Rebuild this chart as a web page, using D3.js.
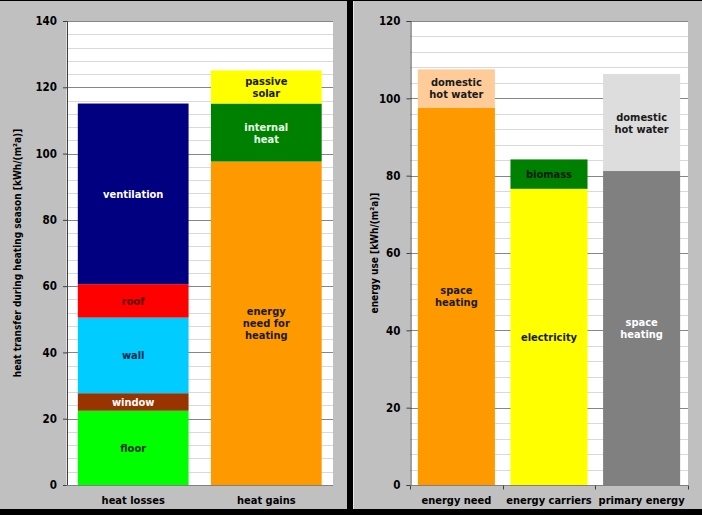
<!DOCTYPE html>
<html>
<head>
<meta charset="utf-8">
<script src="https://cdn.jsdelivr.net/npm/d3@7"></script>
<style>
  html, body { margin: 0; padding: 0; background: #000; }
  svg { display: block; }
  text { font-family: "DejaVu Sans Condensed", "DejaVu Sans", sans-serif; font-weight: bold; }
</style>
</head>
<body>
<svg id="chart" width="702" height="515"></svg>
<script>
// ---------------- data ----------------
const leftCategories = ["heat losses", "heat gains"];
const heatLossLabels = ["floor", "window", "wall", "roof", "ventilation"];
const heatLossValues = [22.4, 5.3, 22.8, 10.1, 54.5];
const heatGainLabels = ["energy|need for|heating", "internal|heat", "passive|solar"];
const heatGainValues = [97.6, 17.5, 10.0];
const leftTicks = [0, 20, 40, 60, 80, 100, 120, 140];
const leftTitle = "heat transfer during heating season [kWh/(m²a)]";

const rightCategories = ["energy need", "energy carriers", "primary energy"];
const energyNeedLabels = ["space|heating", "domestic|hot water"];
const energyNeedValues = [97.6, 9.9];
const carrierLabels = ["electricity", "biomass"];
const carrierValues = [76.6, 7.6];
const primaryLabels = ["space|heating", "domestic|hot water"];
const primaryValues = [81.2, 25.1];
const rightTicks = [0, 20, 40, 60, 80, 100, 120];
const rightTitle = "energy use [kWh/(m²a)]";

// ---------------- styles ----------------
const heatLossColors = ["#00ff00", "#993300", "#00ccff", "#ff0000", "#000080"];
const heatLossText = ["#003300", "#ffffff", "#002a4a", "#5a0000", "#ffffff"];
const heatGainColors = ["#ff9900", "#008000", "#ffff00"];
const heatGainText = ["#1a1a1a", "#e8ffe8", "#1a1a1a"];
const energyNeedColors = ["#ff9900", "#ffcc99"];
const energyNeedText = ["#1a1a1a", "#1a1a1a"];
const carrierColors = ["#ffff00", "#008000"];
const carrierText = ["#1a1a1a", "#0a1a0a"];
const primaryColors = ["#808080", "#dddddd"];
const primaryText = ["#ffffff", "#1a1a1a"];

const svg = d3.select("#chart");
svg.append("rect").attr("x", 0).attr("y", 0).attr("width", 702).attr("height", 515).attr("fill", "#000");

function stackOf(values) {
  let acc = 0;
  return values.map(v => { const s = acc; acc += v; return [s, acc]; });
}

function drawPanel(cfg) {
  const g = svg.append("g");
  g.append("rect").attr("x", cfg.px).attr("y", 1).attr("width", cfg.pw).attr("height", 508).attr("fill", "#c0c0c0");
  if (cfg.highlight) {
    g.append("line").attr("x1", cfg.px + 0.5).attr("x2", cfg.px + 0.5).attr("y1", 1).attr("y2", 509)
      .attr("stroke", "#e6e6e6").attr("stroke-width", 1);
  }
  const y = d3.scaleLinear().domain([0, cfg.max]).range([485, 21]);
  const x = d3.scaleBand().domain(cfg.categories).range([cfg.x0, cfg.x1])
    .paddingInner(0.168).paddingOuter(0.085);

  // plot area
  g.append("rect").attr("x", cfg.x0).attr("y", 21).attr("width", cfg.x1 - cfg.x0).attr("height", 464).attr("fill", "#ffffff");

  // minor grid
  const minor = d3.range(0, cfg.max + 0.001, 4).filter(v => v % 20 !== 0);
  g.selectAll(null).data(minor).enter().append("line")
    .attr("x1", cfg.x0).attr("x2", cfg.x1)
    .attr("y1", d => Math.round(y(d)) + 0.5).attr("y2", d => Math.round(y(d)) + 0.5)
    .attr("stroke", "#d9d9d9").attr("stroke-width", 1);
  // major grid
  g.selectAll(null).data(cfg.ticks.filter(t => t > 0)).enter().append("line")
    .attr("x1", cfg.x0).attr("x2", cfg.x1)
    .attr("y1", d => Math.round(y(d)) + 0.5).attr("y2", d => Math.round(y(d)) + 0.5)
    .attr("stroke", "#868686").attr("stroke-width", 1);

  // bars
  cfg.stacks.forEach(st => {
    const segs = stackOf(st.values);
    segs.forEach((s, i) => {
      g.append("rect")
        .attr("x", x(st.cat)).attr("width", x.bandwidth())
        .attr("y", y(s[1])).attr("height", y(s[0]) - y(s[1]))
        .attr("fill", st.colors[i]);
    });
    segs.forEach((s, i) => {
      const lines = st.labels[i].split("|");
      const cy = y((s[0] + s[1]) / 2);
      const lh = 12;
      const t = g.append("text")
        .attr("x", x(st.cat) + x.bandwidth() / 2)
        .attr("text-anchor", "middle")
        .attr("font-size", 11)
        .attr("fill", st.text[i]);
      lines.forEach((ln, k) => {
        t.append("tspan")
          .attr("x", x(st.cat) + x.bandwidth() / 2)
          .attr("y", cy + (k - (lines.length - 1) / 2) * lh + 4)
          .text(ln);
      });
    });
  });

  // y axis
  const ya = g.append("g").attr("transform", `translate(${cfg.x0 + 0.5},0)`)
    .call(d3.axisLeft(y).tickValues(cfg.ticks).tickSize(4).tickPadding(6).tickFormat(d3.format("d")));
  ya.select(".domain").attr("stroke", "#404040");
  ya.selectAll(".tick line").attr("stroke", "#404040");
  ya.selectAll(".tick text").attr("font-size", 11.5).attr("fill", "#000")
    .attr("font-family", "\"DejaVu Sans Condensed\", \"DejaVu Sans\", sans-serif").attr("font-weight", "bold");

  // x axis
  const xa = g.append("g").attr("transform", "translate(0,485.5)");
  xa.append("line").attr("x1", cfg.x0).attr("x2", cfg.x1).attr("y1", 0).attr("y2", 0)
    .attr("stroke", "#808080");
  if (cfg.catTicks) {
    const bounds = [cfg.x0].concat(cfg.categories.map(c => x(c) + x.bandwidth() + x.step() * x.paddingInner() / 2));
    bounds[bounds.length - 1] = cfg.x1;
    xa.selectAll(null).data(bounds).enter().append("line")
      .attr("x1", d => Math.round(d) + 0.5).attr("x2", d => Math.round(d) + 0.5)
      .attr("y1", 0).attr("y2", 4).attr("stroke", "#404040");
  }
  xa.selectAll(null).data(cfg.categories).enter().append("text")
    .attr("x", d => x(d) + x.bandwidth() / 2).attr("y", 18)
    .attr("text-anchor", "middle").attr("font-size", 11).attr("fill", "#000")
    .text(d => d);

  // y title
  g.append("text")
    .attr("transform", `translate(${cfg.titleX},253) rotate(-90)`)
    .attr("text-anchor", "middle").attr("font-size", 10).attr("fill", "#000")
    .text(cfg.title);
}

drawPanel({
  px: 0, pw: 347, x0: 66.5, x1: 333, max: 140, ticks: leftTicks, categories: leftCategories,
  title: leftTitle, titleX: 20.5, catTicks: false,
  stacks: [
    { cat: "heat losses", values: heatLossValues, labels: heatLossLabels, colors: heatLossColors, text: heatLossText },
    { cat: "heat gains", values: heatGainValues, labels: heatGainLabels, colors: heatGainColors, text: heatGainText }
  ]
});
drawPanel({
  px: 353, pw: 349, x0: 410, x1: 688, max: 120, ticks: rightTicks, categories: rightCategories,
  title: rightTitle, titleX: 378, catTicks: true, highlight: true,
  stacks: [
    { cat: "energy need", values: energyNeedValues, labels: energyNeedLabels, colors: energyNeedColors, text: energyNeedText },
    { cat: "energy carriers", values: carrierValues, labels: carrierLabels, colors: carrierColors, text: carrierText },
    { cat: "primary energy", values: primaryValues, labels: primaryLabels, colors: primaryColors, text: primaryText }
  ]
});
</script>
</body>
</html>
